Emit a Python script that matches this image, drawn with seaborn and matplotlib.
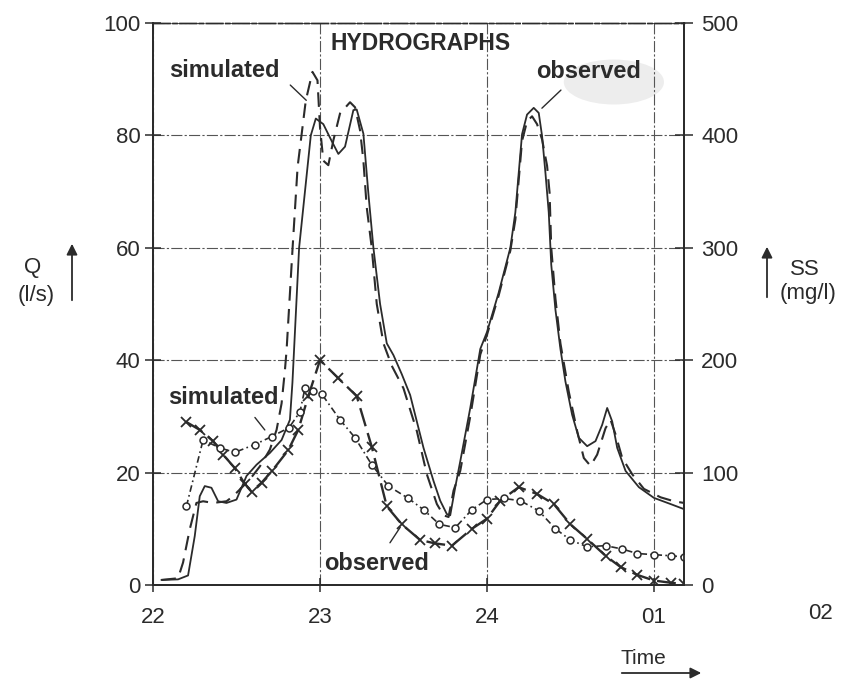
import matplotlib
matplotlib.use('Agg')
import matplotlib.pyplot as plt
from matplotlib.patches import FancyArrowPatch, Ellipse
import seaborn as sns
import pandas as pd

# time axis: hours after 22:00
t_q_obs = [0.05, 0.15, 0.21, 0.25, 0.28, 0.31, 0.35, 0.39, 0.44, 0.50, 0.56, 0.62, 0.70, 0.77,
           0.82, 0.835, 0.845, 0.875, 0.945, 0.975, 1.02, 1.07, 1.11, 1.15, 1.20, 1.22, 1.26,
           1.29, 1.32, 1.36, 1.40, 1.44, 1.49, 1.54, 1.62, 1.68, 1.72, 1.76, 1.78, 1.81, 1.84,
           1.90, 1.96, 2.00, 2.07, 2.14, 2.17, 2.21, 2.24, 2.28, 2.31, 2.33, 2.35, 2.37, 2.385,
           2.41, 2.44, 2.47, 2.51, 2.55, 2.60, 2.65, 2.69, 2.72, 2.75, 2.78, 2.83, 2.91, 3.00,
           3.10, 3.18]
q_obs = [0.9, 1.0, 1.7, 8.7, 15.8, 17.6, 17.3, 14.9, 14.6, 15.2, 19.4, 21.4, 23.5, 25.8,
         29.4, 36, 42, 60, 80, 83, 82, 79, 76.7, 78, 84.5, 84.6, 80.3,
         69.6, 60, 50, 43, 40.9, 37.5, 33.8, 24.4, 18.5, 15, 12.6, 12.4, 17.4, 22,
         31.5, 42, 45, 52, 60, 66.3, 80.2, 83.7, 84.9, 84, 79.9, 73.4, 66.3, 57,
         49, 42, 36.2, 30.3, 26.2, 24.7, 25.6, 28.5, 31.5, 29.1, 24.4, 20.3, 17.4, 15.5,
         14.4, 13.5]

t_q_sim = [0.05, 0.15, 0.18, 0.22, 0.26, 0.30, 0.36, 0.44, 0.48, 0.52, 0.58, 0.64, 0.70, 0.74,
           0.77, 0.79, 0.80, 0.836, 0.866, 0.915, 0.955, 0.985, 1.00, 1.02, 1.05, 1.08, 1.12,
           1.18, 1.21, 1.24, 1.26, 1.28, 1.31, 1.34, 1.38, 1.43, 1.50, 1.58, 1.64, 1.70, 1.74,
           1.77, 1.80, 1.84, 1.90, 1.96, 2.00, 2.07, 2.14, 2.17, 2.21, 2.24, 2.27, 2.30, 2.33,
           2.36, 2.375, 2.385, 2.41, 2.44, 2.49, 2.54, 2.58, 2.62, 2.66, 2.71, 2.74, 2.77, 2.81,
           2.87, 2.94, 3.04, 3.12, 3.18]
q_sim = [0.9, 1.2, 4, 9.9, 14.6, 14.9, 14.6, 14.9, 15.8, 17, 18.8, 21.1, 24.1, 27.6,
         32.3, 38.2, 41.8, 60, 74.4, 86.2, 91.3, 89.8, 81.5, 75.5, 74.7, 79.1, 83.9,
         85.9, 85, 80.9, 75.5, 67.2, 60, 50, 43, 39, 35, 27.4, 19.7, 14.4, 12.4,
         12.1, 16.8, 20.3, 30, 41, 44.5, 51.5, 59.5, 65, 79, 82.5, 83.4, 82, 79.3,
         74.6, 69.8, 60, 51, 43, 34.4, 27.4, 22.6, 21.2, 23.2, 27.9, 29.4, 26.8, 22.6,
         19.7, 17.1, 15.6, 14.9, 14.6]

t_ss_obs = [0.20, 0.28, 0.36, 0.42, 0.49, 0.55, 0.59, 0.65, 0.71, 0.81, 0.87, 0.93, 1.00, 1.11,
            1.22, 1.31, 1.40, 1.49, 1.60, 1.69, 1.79, 1.91, 2.00, 2.08, 2.19, 2.30, 2.40, 2.50,
            2.60, 2.71, 2.80, 2.90, 3.00, 3.10, 3.18]
ss_obs = [145, 138, 128, 116, 104, 90, 83, 91, 101, 120, 138, 168, 200, 184,
          168, 123, 70, 54, 40, 37, 35, 50, 59, 75, 87, 81, 72, 54,
          41, 26, 16, 9, 4, 2, 1]

t_ss_sim = [0.20, 0.30, 0.40, 0.49, 0.61, 0.71, 0.815, 0.88, 0.91, 0.96, 1.01, 1.12, 1.21, 1.31,
            1.41, 1.53, 1.62, 1.715, 1.81, 1.91, 2.00, 2.10, 2.20, 2.31, 2.41, 2.50, 2.60, 2.71,
            2.81, 2.90, 3.00, 3.10, 3.18]
ss_sim = [70, 129, 122, 118, 125, 132, 140, 154, 175, 173, 170, 147, 131, 107,
          88, 77, 67, 54, 51, 67, 76, 77, 75, 66, 50, 40, 34, 35,
          32, 28, 27, 26, 25]

q_ticks = [0, 20, 40, 60, 80, 100]
ss_ticks = [0, 100, 200, 300, 400, 500]
hour_ticks = [0, 1, 2, 3]
hour_labels = ['22', '23', '24', '01']

sns.set_style('white')
plt.rcParams['font.family'] = ['Liberation Sans', 'DejaVu Sans']
ink = '#2b2b2b'

W, H = 845, 680
fig = plt.figure(figsize=(W / 100, H / 100), dpi=100)
x0, x1, y0, y1 = 153, 684, 585, 23
ax = fig.add_axes([x0 / W, 1 - y0 / H, (x1 - x0) / W, (y0 - y1) / H])
ax2 = ax.twinx()

# faint grey smudge of the scanned original behind the upper "observed"
ax.add_patch(Ellipse((2.76, 89.5), 0.6, 8.0, color='#ededed', lw=0, zorder=0))

d = pd.DataFrame({'t': t_q_obs, 'q': q_obs})
sns.lineplot(data=d, x='t', y='q', ax=ax, sort=False, estimator=None,
             color=ink, lw=1.3)
d = pd.DataFrame({'t': t_q_sim, 'q': q_sim})
sns.lineplot(data=d, x='t', y='q', ax=ax, sort=False, estimator=None,
             color=ink, lw=1.5, linestyle=(0, (7, 4)))
d = pd.DataFrame({'t': t_ss_obs, 'ss': ss_obs})
sns.lineplot(data=d, x='t', y='ss', ax=ax2, sort=False, estimator=None,
             color=ink, lw=1.7, linestyle=(0, (8, 3)), marker='x', markersize=6.5,
             markeredgewidth=1.3, markeredgecolor=ink)
d = pd.DataFrame({'t': t_ss_sim, 'ss': ss_sim})
sns.lineplot(data=d, x='t', y='ss', ax=ax2, sort=False, estimator=None,
             color=ink, lw=1.2, linestyle=(0, (4, 2, 1, 2)), marker='o', markersize=5,
             markerfacecolor='white', markeredgecolor=ink, markeredgewidth=1.1)

ax.set_xlim(0, 3.18)
ax.set_ylim(0, 100)
ax2.set_ylim(0, 500)
ax.set_xticks(hour_ticks)
ax.set_xticklabels(hour_labels)
ax.set_yticks(q_ticks)
ax2.set_yticks(ss_ticks)
ax.set_xlabel('')
ax.set_ylabel('')
ax2.set_ylabel('')

ax.grid(True, color='#555555', lw=0.8, linestyle=(0, (10, 2, 2, 2)))
ax.tick_params(axis='y', direction='inout', length=12, width=1.1, colors=ink,
               labelsize=16, pad=3, left=True)
ax.tick_params(axis='x', direction='inout', length=10, width=1.1, colors=ink,
               labelsize=16, pad=11, bottom=True)
ax2.tick_params(axis='y', direction='inout', length=13, width=1.1, colors=ink,
                labelsize=16, pad=6, right=True)
for a in (ax, ax2):
    for s in a.spines.values():
        s.set_color(ink)
        s.set_linewidth(1.3)
    a.spines['top'].set_linestyle((0, (12, 2, 3, 2)))
    a.spines['top'].set_linewidth(1.0)

txt = dict(color=ink, ha='center', va='center')
ax.text(1.60, 96.4, 'HYDROGRAPHS', fontsize=16.5, fontweight='bold', **txt)
ax.text(0.43, 91.6, 'simulated', fontsize=17, fontweight='bold', **txt)
ax.text(2.61, 91.3, 'observed', fontsize=17, fontweight='bold', **txt)
ax.text(0.42, 33.3, 'simulated', fontsize=17, fontweight='bold', **txt)
ax.text(1.34, 3.8, 'observed', fontsize=17, fontweight='bold', **txt)

pointer = dict(arrowstyle='-', color=ink, lw=1.0)
ax.annotate('', xy=(0.93, 85.9), xytext=(0.81, 89.3), arrowprops=pointer)
ax.annotate('', xy=(2.317, 84.5), xytext=(2.455, 88.4), arrowprops=pointer)
ax.annotate('', xy=(0.68, 27.2), xytext=(0.60, 30.2), arrowprops=pointer)
ax.annotate('', xy=(1.49, 10.7), xytext=(1.41, 7.1), arrowprops=pointer)

trans = ax.get_xaxis_transform()
ax.text(4.0, -0.05, '02', transform=trans, fontsize=16, clip_on=False, **txt)


def fx(px):
    return px / W


def fy(py):
    return 1 - py / H


fig.text(fx(33), fy(268), 'Q', fontsize=16, **txt)
fig.text(fx(36), fy(295), '(l/s)', fontsize=16, **txt)
fig.text(fx(805), fy(270), 'SS', fontsize=16, **txt)
fig.text(fx(808), fy(293), '(mg/l)', fontsize=16, **txt)
fig.text(fx(643), fy(659), 'Time', fontsize=15, **txt)

for p, q in [((72, 303), (72, 241)), ((767, 300), (767, 244)), ((619, 673), (704, 673))]:
    fig.add_artist(FancyArrowPatch((fx(p[0]), fy(p[1])), (fx(q[0]), fy(q[1])),
                                   transform=fig.transFigure, arrowstyle='-|>',
                                   mutation_scale=16, color=ink, lw=1.3))

fig.savefig('out.png', dpi=100)
